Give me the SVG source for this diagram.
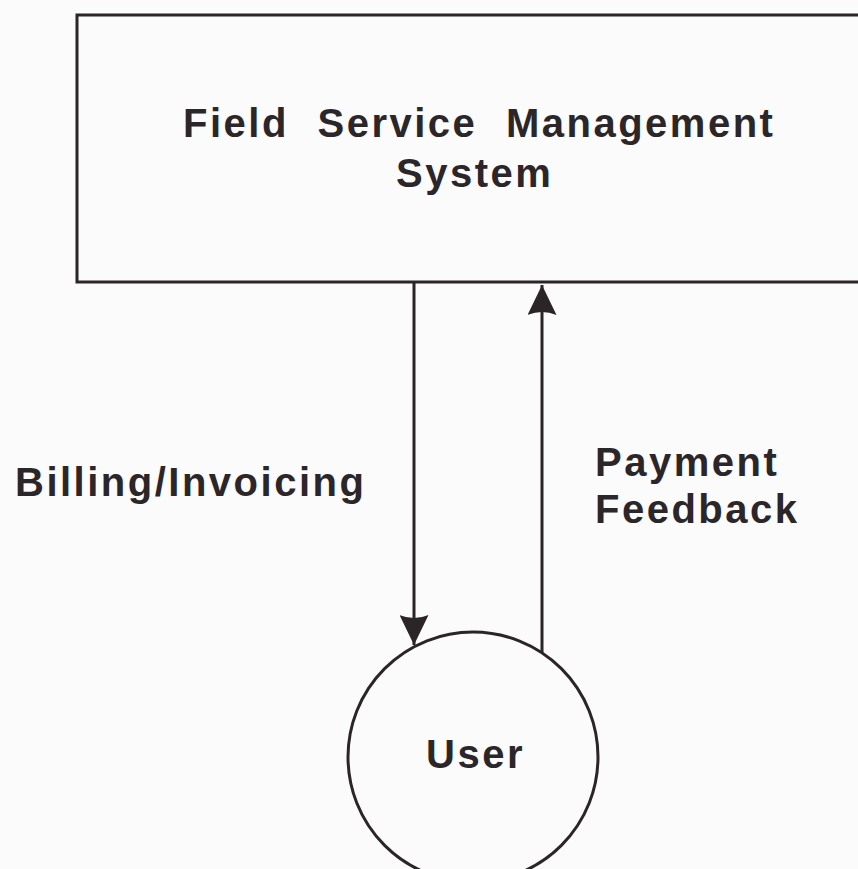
<svg xmlns="http://www.w3.org/2000/svg" width="858" height="869" viewBox="0 0 858 869">
<defs>
<style>
.shape{fill:none;stroke:#2b2528;stroke-width:3}
.lbl{font-family:"Liberation Sans",Arial,sans-serif;font-weight:bold;font-size:40px;fill:#2b2629;letter-spacing:2.5px}
.conn{fill:none;stroke:#2b2528;stroke-width:3}
</style>
<marker id="arrow" viewBox="0 0 30 29" refX="30" refY="14.5" markerWidth="30" markerHeight="29" markerUnits="userSpaceOnUse" orient="auto">
<path d="M0,0 Q6,14.5 0,29 L30,14.5 Z" fill="#2b2528"/>
</marker>
</defs>
<rect x="0" y="0" width="858" height="869" fill="#fbfbfb"/>
<g id="fsms">
<rect class="shape" x="77" y="15" width="800" height="267"/>
<text class="lbl" x="183" y="137" style="word-spacing:15px">Field Service Management</text>
<text class="lbl" x="396" y="187">System</text>
</g>
<g id="user">
<circle class="shape" cx="473" cy="757" r="125"/>
<text class="lbl" x="426" y="768">User</text>
</g>
<g id="connectors">
<path class="conn" d="M414,282 L414,645" marker-end="url(#arrow)"/>
<path class="conn" d="M542,653 L542,285" marker-end="url(#arrow)"/>
<text class="lbl" x="15" y="496">Billing/Invoicing</text>
<text class="lbl" x="595" y="476">Payment</text>
<text class="lbl" x="595" y="523">Feedback</text>
</g>
</svg>
